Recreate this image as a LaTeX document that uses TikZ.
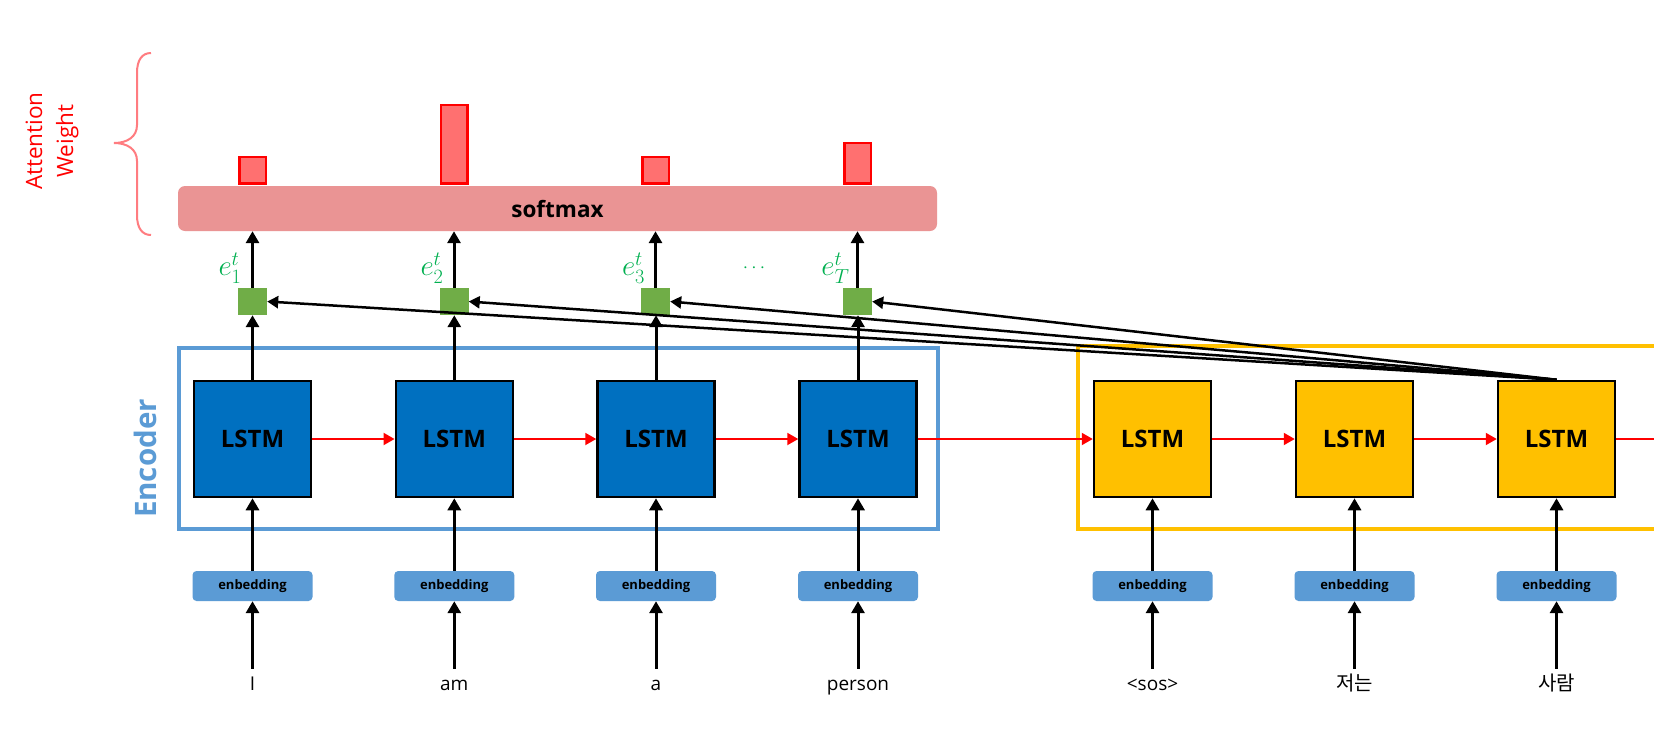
\RequirePackage{fix-cm}
\documentclass[tikz,border=0pt]{standalone}
\usepackage{fontspec}
\setmainfont{Open Sans}
\newfontfamily\krfont{Noto Sans CJK KR}
\usetikzlibrary{arrows.meta}
\definecolor{encblue}{RGB}{0,112,192}
\definecolor{frameblue}{RGB}{91,155,213}
\definecolor{decyel}{RGB}{255,192,0}
\definecolor{smaxred}{RGB}{234,148,148}
\definecolor{barred}{RGB}{255,112,112}
\definecolor{scoregreen}{RGB}{112,173,71}
\definecolor{labgreen}{RGB}{0,176,80}
\definecolor{bracered}{RGB}{255,124,128}
\tikzset{
  lstmbox/.style={draw=black, line width=2.5pt, minimum width=117pt, minimum height=116pt, inner sep=0pt,
    font=\bfseries\fontsize{24}{28}\selectfont},
  encl/.style={lstmbox, fill=encblue},
  decl/.style={lstmbox, fill=decyel},
  embbox/.style={fill=frameblue, rounded corners=4pt, minimum width=120pt, minimum height=30pt, inner sep=0pt,
    font=\bfseries\fontsize{13}{16}\selectfont},
  scorebox/.style={fill=scoregreen, minimum width=29pt, minimum height=27pt, inner sep=0pt},
  attbar/.style={draw=red, line width=2.5pt, fill=barred, minimum width=26.5pt, inner sep=0pt, anchor=south},
  word/.style={anchor=base, inner sep=2pt, text height=19pt, text depth=5pt, font=\fontsize{19}{23}\selectfont},
  elab/.style={text=labgreen, font=\fontsize{29}{32}\selectfont, inner sep=0pt},
  blk/.style={-{Triangle[length=12pt,width=13pt]}, line width=3pt, black},
  attn/.style={-{Triangle[length=11pt,width=12pt]}, line width=2.5pt, black},
  redarr/.style={-{Triangle[length=11pt,width=12pt]}, line width=2pt, red},
  frame/.style={line width=4pt, inner sep=0pt},
}
\begin{document}
\begin{tikzpicture}[x=1pt,y=-1pt]
\clip (0,0) rectangle (1654,742);
\fill[white] (0,0) rectangle (1654,742);

% frames
\node[frame, draw=frameblue, minimum width=758.7pt, minimum height=180.7pt] (encframe) at (558.35,438.35) {};
\node[frame, draw=decyel, minimum width=640pt, minimum height=182.7pt] (decframe) at (1397.7,437.65) {};

% labels
\node[text=frameblue, rotate=90, font=\bfseries\fontsize{29.5}{34}\selectfont, inner sep=0pt] (enclab) at (145,458.5) {Encoder};
\node[text=red, rotate=90, align=center, font=\fontsize{22.5}{31}\selectfont, inner sep=0pt] (attlab) at (52,141) {Attention\\Weight};

% brace
\draw[bracered, line width=2pt] (151,53) .. controls (142,53) and (137,60) .. (137,73) -- (137,125)
  .. controls (137,137) and (127,143) .. (114,143)
  .. controls (127,143) and (137,149) .. (137,161) -- (137,215)
  .. controls (137,228) and (142,235) .. (151,235);

% softmax
\node[fill=smaxred, rounded corners=7pt, minimum width=759pt, minimum height=45pt, inner sep=0pt,
  font=\bfseries\fontsize{22.5}{27}\selectfont] (smax) at (557.5,208.5) {softmax};

% attention bars
\node[attbar, minimum height=26.5pt] (b1) at (252.5,184.8) {};
\node[attbar, minimum height=78.5pt] (b2) at (454,184.8) {};
\node[attbar, minimum height=26.5pt] (b3) at (655.5,184.8) {};
\node[attbar, minimum height=40.5pt] (b4) at (857.5,184.8) {};

% score boxes
\node[scorebox] (g1) at (252.5,301.5) {};
\node[scorebox] (g2) at (454,301.5) {};
\node[scorebox] (g3) at (655.5,301.5) {};
\node[scorebox] (g4) at (857.5,301.5) {};

\node[elab] (e1) at (230,268) {$e_1^t$};
\node[elab] (e2) at (432,268) {$e_2^t$};
\node[elab] (e3) at (633.5,268) {$e_3^t$};
\node[elab] (e4) at (835.5,268) {$e_T^t$};
\node[text=labgreen, font=\fontsize{19}{21}\selectfont, inner sep=0pt] (dots) at (754,268) {$\cdots$};

% LSTMs
\node[encl] (l1) at (252.5,439) {LSTM};
\node[encl] (l2) at (454.3,439) {LSTM};
\node[encl] (l3) at (656,439) {LSTM};
\node[encl] (l4) at (858,439) {LSTM};
\node[decl] (d1) at (1152.5,439) {LSTM};
\node[decl] (d2) at (1354.5,439) {LSTM};
\node[decl] (d3) at (1556.5,439) {LSTM};
\coordinate (dout) at (1700,439);

% embeddings
\node[embbox] (m1) at (252.5,586) {enbedding};
\node[embbox] (m2) at (454.3,586) {enbedding};
\node[embbox] (m3) at (656,586) {enbedding};
\node[embbox] (m4) at (858,586) {enbedding};
\node[embbox] (m5) at (1152.5,586) {enbedding};
\node[embbox] (m6) at (1354.5,586) {enbedding};
\node[embbox] (m7) at (1556.5,586) {enbedding};

% words
\node[word] (w1) at (252.5,690) {I};
\node[word] (w2) at (454.3,690) {am};
\node[word] (w3) at (656,690) {a};
\node[word] (w4) at (858,690) {person};
\node[word] (w5) at (1152.5,690) {<sos>};
\node[word, font=\fontsize{20}{23}\krfont] (w6) at (1354.5,690) {저는};
\node[word, font=\fontsize{20}{23}\krfont] (w7) at (1556.5,690) {사람};

% vertical arrows
\foreach \i in {1,...,7} {
  \draw[blk] (w\i.north) -- (m\i.south);
}
\foreach \a/\b in {m1/l1,m2/l2,m3/l3,m4/l4,m5/d1,m6/d2,m7/d3} {
  \draw[blk] (\a.north) -- (\b.south);
}
\foreach \a/\b in {l1/g1,l2/g2,l3/g3,l4/g4,g1/smax,g2/smax,g3/smax,g4/smax} {
  \draw[blk] (\a.north) -- (\a.north |- \b.south);
}

% recurrent arrows
\foreach \a/\b in {l1/l2,l2/l3,l3/l4,l4/d1,d1/d2,d2/d3} {
  \draw[redarr] (\a.east) -- (\b.west);
}
\draw[red, line width=2pt] (d3.east) -- (dout);

% attention lines
\foreach \g in {g1,g2,g3,g4} {
  \draw[attn] (d3.north) -- (\g.east);
}
\end{tikzpicture}
\end{document}
